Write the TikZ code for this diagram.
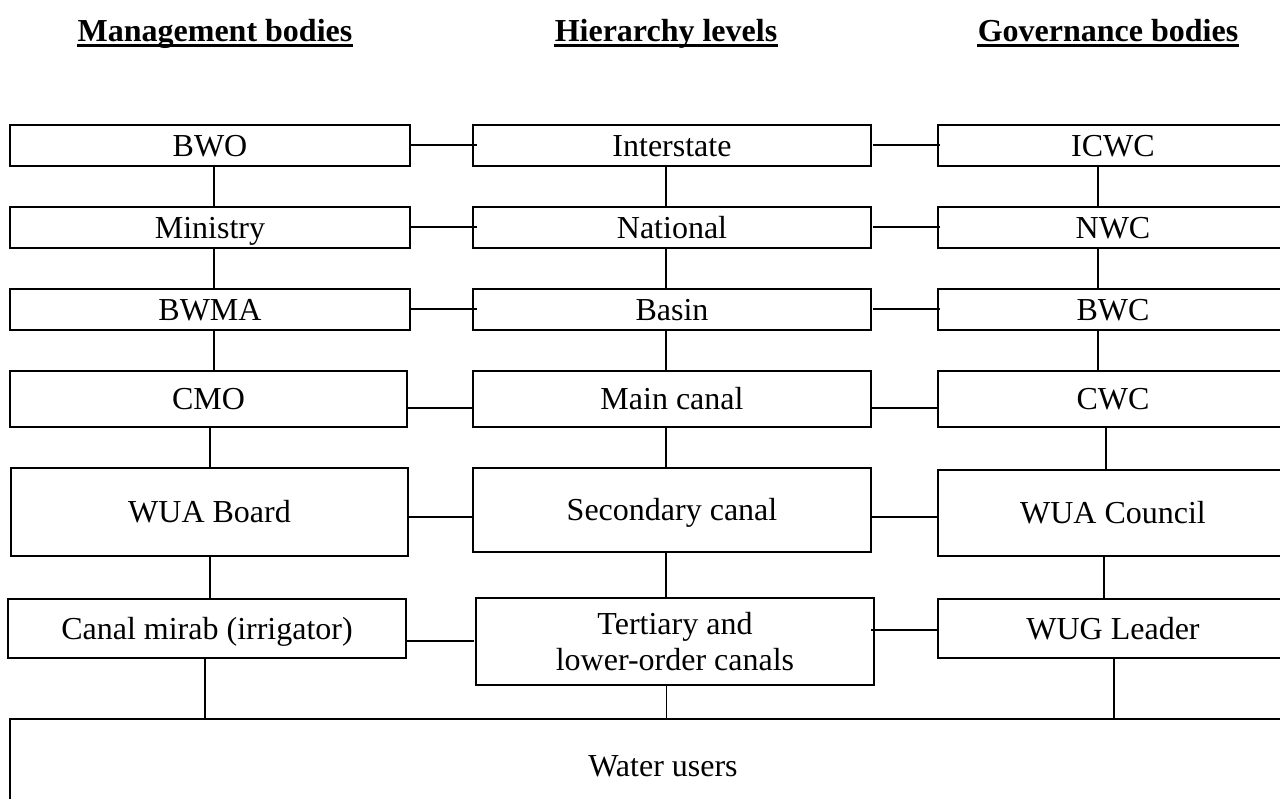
\documentclass[tikz,border=0pt]{standalone}
\usepackage{fontspec}
\setmainfont{Liberation Serif}
\begin{document}
\begin{tikzpicture}[x=0.5pt,y=-0.5pt,
  box/.style={draw, line width=1pt, inner sep=0pt, outer sep=0pt, align=center, anchor=north west,
    font=\fontsize{16}{18}\selectfont, text height=10.6pt, text depth=0pt},
  twoline/.style={text height={}, text depth={}},
  head/.style={font=\fontsize{16}{19}\selectfont\bfseries, inner sep=0pt, anchor=base},
  link/.style={line width=1pt},
  thinlink/.style={line width=0.5pt},
  uline/.style={line width=1.4pt}]
\useasboundingbox (0,0) rectangle (1280,798);
\clip (0,0) rectangle (1280,798);

% headers
\node[head] (h1) at (215,41) {Management bodies};
\node[head] (h2) at (666,41) {Hierarchy levels};
\node[head] (h3) at (1108,41) {Governance bodies};
\foreach \h in {h1,h2,h3}{
  \draw[uline] ([yshift=-2.2pt]\h.base west) -- ([yshift=-2.2pt]\h.base east);
}

% left column
\node[box, minimum width=200pt, minimum height=20.5pt] (bwo) at (10,125) {BWO};
\node[box, minimum width=200pt, minimum height=20.5pt] (min) at (10,207) {Ministry};
\node[box, minimum width=200pt, minimum height=20.5pt] (bwma) at (10,289) {BWMA};
\node[box, minimum width=198.5pt, minimum height=28pt] (cmo) at (10,371) {CMO};
\node[box, minimum width=198.5pt, minimum height=44pt] (wuab) at (11,468) {WUA Board};
\node[box, minimum width=199pt, minimum height=29.5pt] (mirab) at (8,599) {Canal mirab (irrigator)};

% middle column
\node[box, minimum width=199pt, minimum height=20.5pt] (inter) at (473,125) {Interstate};
\node[box, minimum width=199pt, minimum height=20.5pt] (nat) at (473,207) {National};
\node[box, minimum width=199pt, minimum height=20.5pt] (basin) at (473,289) {Basin};
\node[box, minimum width=199pt, minimum height=28pt] (main) at (473,371) {Main canal};
\node[box, minimum width=199pt, minimum height=42pt] (sec) at (473,468) {Secondary canal};
\node[box, twoline, minimum width=199pt, minimum height=43.5pt] (ter) at (476,598) {Tertiary and\\lower-order canals};

% right column
\node[box, minimum width=175pt, minimum height=20.5pt] (icwc) at (938,125) {ICWC};
\node[box, minimum width=175pt, minimum height=20.5pt] (nwc) at (938,207) {NWC};
\node[box, minimum width=175pt, minimum height=20.5pt] (bwc) at (938,289) {BWC};
\node[box, minimum width=175pt, minimum height=28pt] (cwc) at (938,371) {CWC};
\node[box, minimum width=175pt, minimum height=43pt] (wuac) at (938,470) {WUA Council};
\node[box, minimum width=175pt, minimum height=29.5pt] (wug) at (938,599) {WUG Leader};

% water users
\node[box, minimum width=653pt, minimum height=46.5pt] (users) at (10,719) {Water users};

% level coordinates
\coordinate (y1) at (0,145);
\coordinate (y2) at (0,227);
\coordinate (y3) at (0,309);
\coordinate (y4) at (0,408);
\coordinate (y5) at (0,517);
\coordinate (y6l) at (0,641);
\coordinate (y6r) at (0,630);

% horizontal connectors
\draw[link] (bwo.east |- y1) -- ([xshift=2pt]inter.west |- y1);
\draw[link] ([xshift=1pt]inter.east |- y1) -- ([xshift=1pt]icwc.west |- y1);
\draw[link] (min.east |- y2) -- ([xshift=2pt]nat.west |- y2);
\draw[link] ([xshift=1pt]nat.east |- y2) -- ([xshift=1pt]nwc.west |- y2);
\draw[link] (bwma.east |- y3) -- ([xshift=2pt]basin.west |- y3);
\draw[link] ([xshift=1pt]basin.east |- y3) -- ([xshift=1pt]bwc.west |- y3);
\draw[link] (cmo.east |- y4) -- (main.west |- y4);
\draw[link] (main.east |- y4) -- (cwc.west |- y4);
\draw[link] (wuab.east |- y5) -- (sec.west |- y5);
\draw[link] (sec.east |- y5) -- (wuac.west |- y5);
\draw[link] (mirab.east |- y6l) -- ([xshift=-1pt]ter.west |- y6l);
\draw[link] ([xshift=-1.5pt]ter.east |- y6r) -- (wug.west |- y6r);

% vertical coordinates
\coordinate (xl1) at (214,0);
\coordinate (xl2) at (210,0);
\coordinate (xl3) at (205,0);
\coordinate (xm) at (666,0);
\coordinate (xr1) at (1098,0);
\coordinate (xr2) at (1106,0);
\coordinate (xr3) at (1104,0);
\coordinate (xr4) at (1114,0);

% vertical connectors: left
\draw[link] (bwo.south -| xl1) -- (min.north -| xl1);
\draw[link] (min.south -| xl1) -- (bwma.north -| xl1);
\draw[link] (bwma.south -| xl1) -- (cmo.north -| xl1);
\draw[link] (cmo.south -| xl2) -- (wuab.north -| xl2);
\draw[link] (wuab.south -| xl2) -- (mirab.north -| xl2);
\draw[link] (mirab.south -| xl3) -- (users.north -| xl3);
% middle
\draw[link] (inter.south -| xm) -- (nat.north -| xm);
\draw[link] (nat.south -| xm) -- (basin.north -| xm);
\draw[link] (basin.south -| xm) -- (main.north -| xm);
\draw[link] (main.south -| xm) -- (sec.north -| xm);
\draw[link] (sec.south -| xm) -- (ter.north -| xm);
\draw[thinlink] (ter.south -| xm) -- (users.north -| xm);
% right
\draw[link] (icwc.south -| xr1) -- (nwc.north -| xr1);
\draw[link] (nwc.south -| xr1) -- (bwc.north -| xr1);
\draw[link] (bwc.south -| xr1) -- (cwc.north -| xr1);
\draw[link] (cwc.south -| xr2) -- (wuac.north -| xr2);
\draw[link] (wuac.south -| xr3) -- (wug.north -| xr3);
\draw[link] (wug.south -| xr4) -- (users.north -| xr4);
\end{tikzpicture}
\end{document}
